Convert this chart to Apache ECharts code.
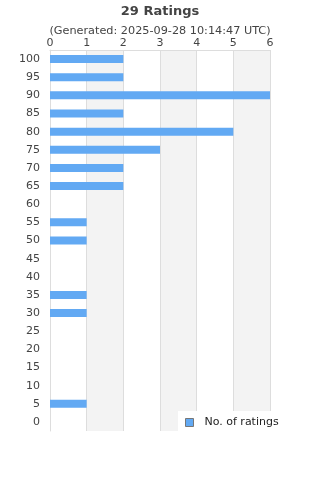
<!DOCTYPE html>
<html><head><meta charset="utf-8">
<script src="https://cdn.jsdelivr.net/npm/echarts@6/dist/echarts.min.js"></script>
<style>html,body{margin:0;padding:0;background:#fff}#c{width:320px;height:480px}</style>
</head><body><div id="c"></div>
<script>
const categories = ['0','5','10','15','20','25','30','35','40','45','50','55','60','65','70','75','80','85','90','95','100'];
const counts = [0,1,0,0,0,0,1,1,0,0,1,1,0,2,2,3,5,2,6,2,2];
const xTicks = [0,1,2,3,4,5,6];
const titleText = '29 Ratings';
const subtitleText = '(Generated: 2025-09-28 10:14:47 UTC)';
const seriesName = 'No. of ratings';

const chart = echarts.init(document.getElementById('c'));
chart.setOption({
  animation: false,
  textStyle: {fontFamily: 'DejaVu Sans'},
  title: {
    text: titleText, subtext: subtitleText, left: 'center', top: 0,
    itemGap: 8,
    textStyle: {fontSize: 13, fontWeight: 'bold', color: '#444', fontFamily: 'DejaVu Sans'},
    subtextStyle: {fontSize: 11.25, color: '#444', fontFamily: 'DejaVu Sans'}
  },
  grid: {left: 50, right: 50, top: 50, bottom: 49, containLabel: false},
  xAxis: {
    type: 'value', position: 'top', min: xTicks[0], max: xTicks[xTicks.length-1], interval: 1,
    axisLine: {show: true, lineStyle: {color: '#ddd'}},
    axisTick: {show: false},
    axisLabel: {color: '#444', fontSize: 11, margin: 1},
    splitLine: {show: true, lineStyle: {color: '#ddd'}},
    splitArea: {show: true, areaStyle: {color: ['#ffffff', '#f3f3f3']}}
  },
  yAxis: {
    type: 'category', data: categories,
    axisLine: {show: true, lineStyle: {color: '#ddd'}},
    axisTick: {show: false},
    axisLabel: {color: '#444', fontSize: 11, margin: 10}
  },
  legend: {
    data: [seriesName], left: 178, top: 411, orient: 'horizontal',
    backgroundColor: '#fff', padding: [6, 10, 6, 7],
    itemWidth: 8, itemHeight: 8,
    textStyle: {color: '#222', fontSize: 11, padding: [0, 0, 0, 6]},
    icon: 'rect',
    itemStyle: {borderColor: '#777', borderWidth: 1}
  },
  series: [{
    name: seriesName, type: 'bar', data: counts, barWidth: 8,
    itemStyle: {color: '#62a9f3'}
  }]
});
</script></body></html>
